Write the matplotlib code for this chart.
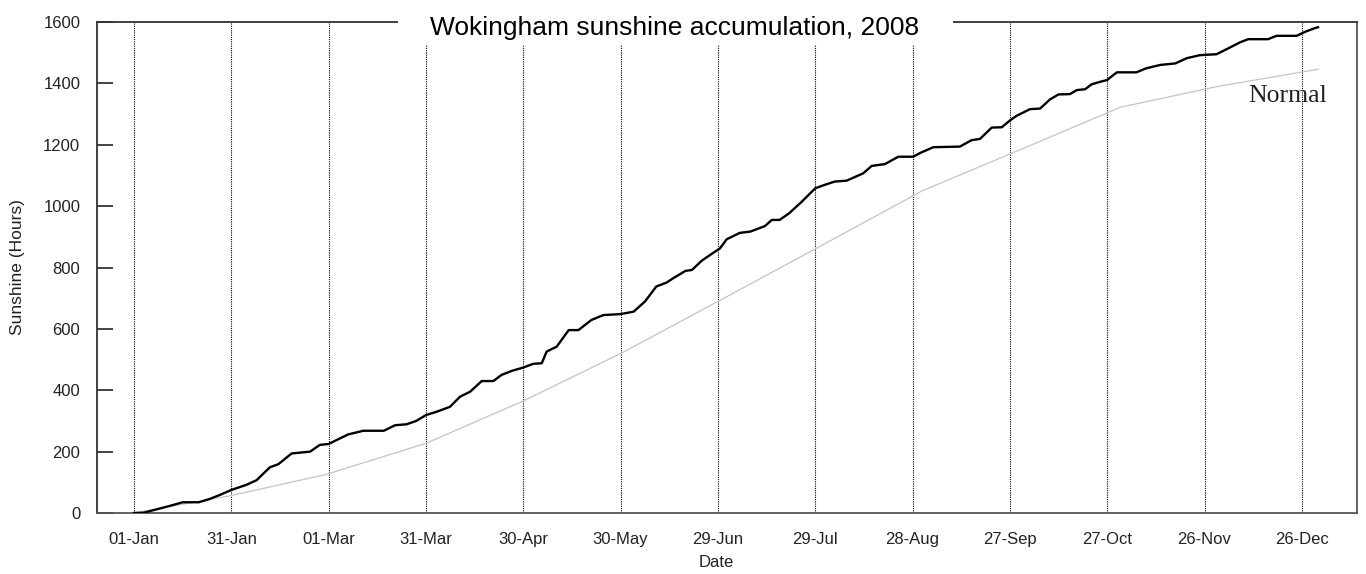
import matplotlib
matplotlib.use("Agg")
import matplotlib.pyplot as plt
from matplotlib.patches import Rectangle

# days since 01-Jan-2008 and cumulative sunshine hours
sun_days = [0, 3, 11, 15, 20, 23.4, 26.5, 30, 34.7, 37.8, 41.9, 44.5, 48.6, 54.3, 57.3,
            60, 66, 70.7, 77, 80.5, 84, 87, 90, 93.3, 97.4, 100.5, 103.6, 107.2, 110.8,
            113.3, 116.4, 120, 123, 125.7, 127.2, 130.3, 134, 137, 141, 144.7, 149.8,
            154, 157.5, 161, 164.2, 166.2, 170, 172, 175, 177.6, 180.6, 182.7, 186.8,
            190, 194.5, 196.6, 199, 202, 205.8, 210, 212, 216, 219.7, 224.8, 227.4,
            231.5, 235.6, 240.2, 242.3, 246.4, 254.6, 258.2, 260.8, 264.4, 267.5, 270,
            272, 276.2, 279.3, 282.4, 285, 288.5, 290.6, 293.2, 295.2, 297.8, 300,
            301.5, 303, 309, 312, 316.3, 321, 324.5, 328.6, 333.7, 337.3, 341, 343.5,
            349.6, 352.2, 358.4, 361, 364, 365]
sun_hours = [0, 1, 23, 35, 35, 46, 59, 75, 92, 107, 149, 159, 194, 200, 222,
             225, 256, 268, 268, 286, 289, 300, 319, 330, 346, 379, 395, 430, 430,
             450, 463, 474, 486, 488, 526, 542, 596, 596, 629, 645, 648,
             656, 689, 738, 751, 765, 789, 792, 822, 841, 862, 892, 913,
             917, 935, 955, 955, 977, 1014, 1058, 1066, 1080, 1083, 1107, 1131,
             1137, 1161, 1161, 1173, 1192, 1194, 1215, 1219, 1256, 1257, 1279,
             1294, 1316, 1318, 1348, 1364, 1365, 1378, 1381, 1397, 1405, 1411,
             1424, 1436, 1436, 1449, 1460, 1465, 1482, 1492, 1495, 1514, 1534, 1544,
             1544, 1555, 1555, 1568, 1580, 1583]

# normal accumulation at month ends
normal_days = [0, 30, 59, 90, 120, 151, 181, 212, 243, 273, 304, 334, 365]
normal_hours = [0, 57, 125, 227, 365, 525, 695, 872, 1050, 1183, 1322, 1390, 1446]

tick_days = [0, 30, 60, 90, 120, 150, 180, 210, 240, 270, 300, 330, 360]
tick_labels = ["01-Jan", "31-Jan", "01-Mar", "31-Mar", "30-Apr", "30-May", "29-Jun",
               "29-Jul", "28-Aug", "27-Sep", "27-Oct", "26-Nov", "26-Dec"]
y_ticks = [0, 200, 400, 600, 800, 1000, 1200, 1400, 1600]

plt.rcParams["font.family"] = ["Liberation Sans", "DejaVu Sans"]

fig = plt.figure(figsize=(13.66, 5.74), dpi=100)
ax = fig.add_axes([97 / 1366, 1 - 513 / 574, 1260 / 1366, 491 / 574])

for d in tick_days:
    ax.axvline(d, color="black", lw=0.8, ls=(0, (1, 1)), zorder=1)

ax.plot(normal_days, normal_hours, color="#c4c4c4", lw=0.9, zorder=2)
ax.plot(sun_days, sun_hours, color="black", lw=1.7, zorder=3)
ax.text(343.4, 1340, "Normal", family="Liberation Serif", fontsize=18.5,
        ha="left", va="baseline", color="#222222")

ax.set_xlim(-11.4, 377)
ax.set_ylim(0, 1600)
ax.set_xticks(tick_days)
ax.set_xticklabels(tick_labels)
ax.set_yticks(y_ticks)
ax.tick_params(axis="x", length=0, pad=13.5, labelsize=12, colors="#222222")
ax.tick_params(axis="y", direction="in", length=11.5, width=1.2, pad=12,
               labelsize=12, colors="#222222")

for side in ["left", "top"]:
    ax.spines[side].set_color("#333333")
    ax.spines[side].set_linewidth(1.3)
for side in ["right", "bottom"]:
    ax.spines[side].set_color("#555555")
    ax.spines[side].set_linewidth(1.3)

ax.set_xlabel("Date", fontsize=12, color="#222222")
ax.xaxis.set_label_coords(0.4915, -0.085)
ax.set_ylabel("Sunshine (Hours)", fontsize=12.5, color="#222222")
ax.yaxis.set_label_coords(-0.0571, 0.5)

# white box behind the title, breaking the top frame
ax.add_patch(Rectangle((398 / 1366, 1 - 45 / 574), (953 - 398) / 1366, 45 / 574,
                       transform=fig.transFigure, facecolor="white", edgecolor="none",
                       clip_on=False, zorder=5))
fig.text(674.5 / 1366, 1 - 28 / 574, "Wokingham sunshine accumulation, 2008",
         fontsize=19, ha="center", va="center", color="black", zorder=6)

fig.savefig("out.png", dpi=100)
